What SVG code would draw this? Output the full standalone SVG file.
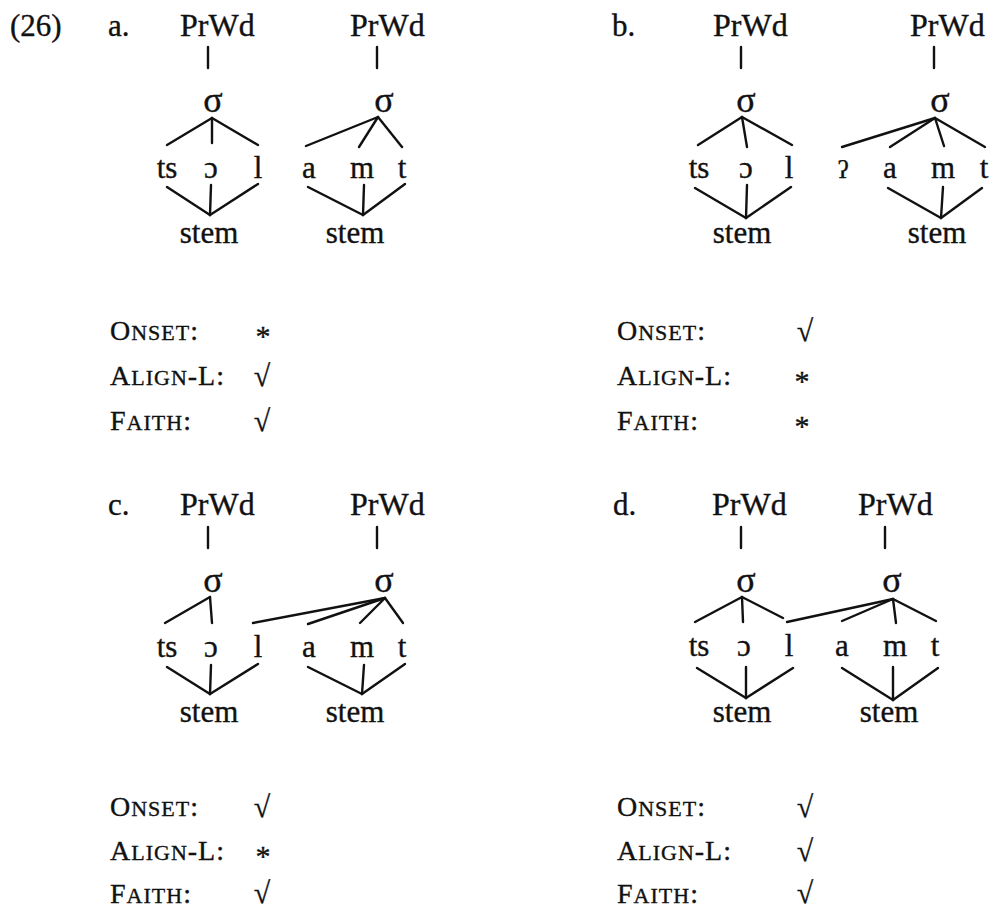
<svg xmlns="http://www.w3.org/2000/svg" width="992" height="914" viewBox="0 0 992 914">
<style>
text{font-family:"Liberation Serif","DejaVu Serif",serif;fill:#111;stroke:#111;stroke-width:0.35px;}
.lab{font-size:31px;}
.pw{font-size:32px;}
.sg{font-size:36px;text-anchor:middle;}
.seg{font-size:31px;text-anchor:middle;}
.st{font-size:31px;text-anchor:middle;}
.gs{font-size:25px;text-anchor:middle;}
.con{font-size:28px;letter-spacing:1px;}
.sc{font-size:22px;}
.mk{font-size:30px;text-anchor:middle;}
.ast{font-size:30px;text-anchor:middle;}
line{stroke:#111;stroke-width:2.4;stroke-linecap:round;}
</style>
<rect width="992" height="914" fill="#fff"/>

<!-- ===== Panel a ===== -->
<g id="panel-a">
<g id="a-nodes">
<text id="ex-num" class="lab" x="10" y="36">(26)</text>
<text id="a-label" class="lab" x="108" y="36">a.</text>
<g id="a-prwd1"><text class="pw" x="180" y="36">PrWd</text></g>
<g id="a-prwd2"><text class="pw" x="350" y="36">PrWd</text></g>
<g id="a-sig1"><text class="sg" x="213" y="112">σ</text></g>
<g id="a-sig2"><text class="sg" x="384" y="112">σ</text></g>
<g id="a-ts"><text class="seg" x="167" y="178">ts</text></g>
<g id="a-o"><text class="seg" x="211" y="178">ɔ</text></g>
<g id="a-l"><text class="seg" x="258" y="178">l</text></g>
<g id="a-a"><text class="seg" x="309" y="178">a</text></g>
<g id="a-m"><text class="seg" x="362" y="178">m</text></g>
<g id="a-t"><text class="seg" x="402" y="178">t</text></g>
<g id="a-stem1"><text class="st" x="209" y="243">stem</text></g>
<g id="a-stem2"><text class="st" x="355" y="243">stem</text></g>
</g>
<g id="a-connectors">
<line x1="208" y1="47" x2="208" y2="68"/>
<line x1="377" y1="47" x2="377" y2="68"/>
<line x1="212" y1="118" x2="167" y2="145"/>
<line x1="212" y1="118" x2="212" y2="143"/>
<line x1="212" y1="118" x2="258" y2="145"/>
<line x1="378" y1="117" x2="306" y2="146"/>
<line x1="378" y1="117" x2="359" y2="147"/>
<line x1="378" y1="117" x2="402" y2="147"/>
<line x1="167" y1="187" x2="210" y2="215"/>
<line x1="211" y1="185" x2="210" y2="215"/>
<line x1="258" y1="184" x2="210" y2="215"/>
<line x1="308" y1="187" x2="363" y2="215"/>
<line x1="364" y1="185" x2="363" y2="215"/>
<line x1="405" y1="184" x2="363" y2="215"/>
</g>
<g id="a-constraints">
<text class="con" x="110" y="340">O<tspan class="sc">NSET</tspan>:</text>
<text class="ast" x="263" y="346">*</text>
<text class="con" x="110" y="385">A<tspan class="sc">LIGN</tspan>-L:</text>
<text class="mk" x="262" y="386">√</text>
<text class="con" x="110" y="430">F<tspan class="sc">AITH</tspan>:</text>
<text class="mk" x="262" y="431">√</text>
</g>
</g>

<!-- ===== Panel b ===== -->
<g id="panel-b">
<g id="b-nodes">
<text id="b-label" class="lab" x="612" y="36">b.</text>
<g id="b-prwd1"><text class="pw" x="713" y="36">PrWd</text></g>
<g id="b-prwd2"><text class="pw" x="910" y="36">PrWd</text></g>
<g id="b-sig1"><text class="sg" x="746" y="112">σ</text></g>
<g id="b-sig2"><text class="sg" x="940" y="112">σ</text></g>
<g id="b-ts"><text class="seg" x="699" y="178">ts</text></g>
<g id="b-o"><text class="seg" x="746" y="178">ɔ</text></g>
<g id="b-l"><text class="seg" x="789" y="178">l</text></g>
<g id="b-q"><text class="gs" x="843" y="178">ʔ</text></g>
<g id="b-a"><text class="seg" x="890" y="178">a</text></g>
<g id="b-m"><text class="seg" x="943" y="178">m</text></g>
<g id="b-t"><text class="seg" x="984" y="178">t</text></g>
<g id="b-stem1"><text class="st" x="742" y="243">stem</text></g>
<g id="b-stem2"><text class="st" x="937" y="243">stem</text></g>
</g>
<g id="b-connectors">
<line x1="741" y1="47" x2="741" y2="68"/>
<line x1="934" y1="47" x2="934" y2="68"/>
<line x1="742" y1="117" x2="698" y2="145"/>
<line x1="742" y1="117" x2="747" y2="147"/>
<line x1="742" y1="117" x2="792" y2="145"/>
<line x1="935" y1="118" x2="842" y2="147"/>
<line x1="935" y1="118" x2="890" y2="147"/>
<line x1="935" y1="118" x2="944" y2="146"/>
<line x1="935" y1="118" x2="985" y2="147"/>
<line x1="695" y1="188" x2="746" y2="218"/>
<line x1="747" y1="185" x2="746" y2="218"/>
<line x1="791" y1="187" x2="746" y2="218"/>
<line x1="888" y1="188" x2="941" y2="218"/>
<line x1="943" y1="187" x2="941" y2="218"/>
<line x1="982" y1="188" x2="941" y2="218"/>
</g>
<g id="b-constraints">
<text class="con" x="617" y="340">O<tspan class="sc">NSET</tspan>:</text>
<text class="mk" x="805" y="341">√</text>
<text class="con" x="617" y="385">A<tspan class="sc">LIGN</tspan>-L:</text>
<text class="ast" x="802" y="391">*</text>
<text class="con" x="617" y="430">F<tspan class="sc">AITH</tspan>:</text>
<text class="ast" x="802" y="436">*</text>
</g>
</g>

<!-- ===== Panel c ===== -->
<g id="panel-c">
<g id="c-nodes">
<text id="c-label" class="lab" x="108" y="515">c.</text>
<g id="c-prwd1"><text class="pw" x="180" y="515">PrWd</text></g>
<g id="c-prwd2"><text class="pw" x="350" y="515">PrWd</text></g>
<g id="c-sig1"><text class="sg" x="213" y="592">σ</text></g>
<g id="c-sig2"><text class="sg" x="384" y="592">σ</text></g>
<g id="c-ts"><text class="seg" x="167" y="657">ts</text></g>
<g id="c-o"><text class="seg" x="211" y="657">ɔ</text></g>
<g id="c-l"><text class="seg" x="258" y="657">l</text></g>
<g id="c-a"><text class="seg" x="309" y="657">a</text></g>
<g id="c-m"><text class="seg" x="362" y="657">m</text></g>
<g id="c-t"><text class="seg" x="402" y="657">t</text></g>
<g id="c-stem1"><text class="st" x="209" y="722">stem</text></g>
<g id="c-stem2"><text class="st" x="355" y="722">stem</text></g>
</g>
<g id="c-connectors">
<line x1="208" y1="527" x2="208" y2="548"/>
<line x1="377" y1="527" x2="377" y2="548"/>
<line x1="210" y1="597" x2="165" y2="623"/>
<line x1="210" y1="597" x2="212" y2="623"/>
<line x1="385" y1="598" x2="253" y2="623"/>
<line x1="385" y1="598" x2="308" y2="624"/>
<line x1="385" y1="598" x2="360" y2="623"/>
<line x1="385" y1="598" x2="403" y2="623"/>
<line x1="167" y1="667" x2="210" y2="694"/>
<line x1="211" y1="665" x2="210" y2="694"/>
<line x1="258" y1="664" x2="210" y2="694"/>
<line x1="308" y1="667" x2="362" y2="694"/>
<line x1="364" y1="665" x2="362" y2="694"/>
<line x1="405" y1="664" x2="362" y2="694"/>
</g>
<g id="c-constraints">
<text class="con" x="110" y="816">O<tspan class="sc">NSET</tspan>:</text>
<text class="mk" x="262" y="817">√</text>
<text class="con" x="110" y="860">A<tspan class="sc">LIGN</tspan>-L:</text>
<text class="ast" x="263" y="866">*</text>
<text class="con" x="110" y="903">F<tspan class="sc">AITH</tspan>:</text>
<text class="mk" x="262" y="903">√</text>
</g>
</g>

<!-- ===== Panel d ===== -->
<g id="panel-d">
<g id="d-nodes">
<text id="d-label" class="lab" x="613" y="515">d.</text>
<g id="d-prwd1"><text class="pw" x="712" y="515">PrWd</text></g>
<g id="d-prwd2"><text class="pw" x="858" y="515">PrWd</text></g>
<g id="d-sig1"><text class="sg" x="746" y="592">σ</text></g>
<g id="d-sig2"><text class="sg" x="892" y="592">σ</text></g>
<g id="d-ts"><text class="seg" x="699" y="656">ts</text></g>
<g id="d-o"><text class="seg" x="744" y="656">ɔ</text></g>
<g id="d-l"><text class="seg" x="789" y="656">l</text></g>
<g id="d-a"><text class="seg" x="842" y="656">a</text></g>
<g id="d-m"><text class="seg" x="895" y="656">m</text></g>
<g id="d-t"><text class="seg" x="935" y="656">t</text></g>
<g id="d-stem1"><text class="st" x="742" y="722">stem</text></g>
<g id="d-stem2"><text class="st" x="889" y="722">stem</text></g>
</g>
<g id="d-connectors">
<line x1="741" y1="527" x2="741" y2="548"/>
<line x1="885" y1="527" x2="885" y2="548"/>
<line x1="742" y1="597" x2="695" y2="622"/>
<line x1="742" y1="597" x2="743" y2="622"/>
<line x1="742" y1="597" x2="783" y2="618"/>
<line x1="893" y1="599" x2="787" y2="622"/>
<line x1="893" y1="599" x2="842" y2="621"/>
<line x1="893" y1="599" x2="896" y2="623"/>
<line x1="893" y1="599" x2="936" y2="621"/>
<line x1="697" y1="668" x2="746" y2="698"/>
<line x1="746" y1="667" x2="746" y2="698"/>
<line x1="793" y1="668" x2="746" y2="698"/>
<line x1="842" y1="668" x2="893" y2="700"/>
<line x1="893" y1="667" x2="893" y2="700"/>
<line x1="938" y1="668" x2="893" y2="700"/>
</g>
<g id="d-constraints">
<text class="con" x="617" y="816">O<tspan class="sc">NSET</tspan>:</text>
<text class="mk" x="805" y="817">√</text>
<text class="con" x="617" y="860">A<tspan class="sc">LIGN</tspan>-L:</text>
<text class="mk" x="805" y="861">√</text>
<text class="con" x="617" y="903">F<tspan class="sc">AITH</tspan>:</text>
<text class="mk" x="805" y="903">√</text>
</g>
</g>
</svg>
